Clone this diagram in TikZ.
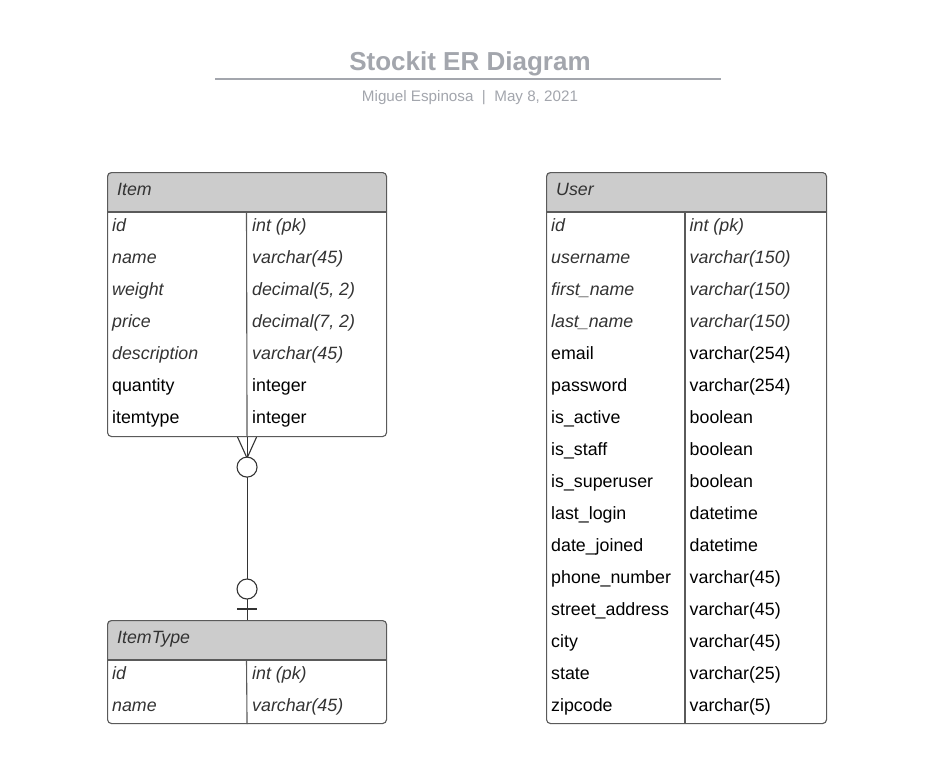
\documentclass[tikz,border=0pt]{standalone}
\usepackage{fontspec}
\usetikzlibrary{calc}
\setmainfont{Liberation Sans}
\definecolor{titlegray}{HTML}{A3A6AD}
\definecolor{hdr}{HTML}{CCCCCC}
\definecolor{bord}{HTML}{5A5A5A}
\definecolor{itx}{HTML}{333333}
\definecolor{conn}{HTML}{333333}
\tikzset{
  tbl/.style={draw=bord, line width=1.1pt, rounded corners=4pt, inner sep=0pt, anchor=north west},
  fld/.style={anchor=base west, inner sep=0pt, font=\fontsize{17.8}{20}\selectfont},
  ifld/.style={anchor=base west, inner sep=0pt, font=\fontsize{17.8}{20}\selectfont\itshape, text=itx},
  sep/.style={draw=bord, line width=1.1pt},
  cline/.style={draw=conn, line width=1.1pt},
  ring/.style={circle, draw=conn, line width=1.1pt, fill=white, minimum size=20pt, inner sep=0pt},
}
\begin{document}
\begin{tikzpicture}[x=1pt,y=-1pt]
\useasboundingbox[fill=white] (0,0) rectangle (934,764);

% title
\node[anchor=base, inner sep=0pt, text=titlegray, font=\fontsize{26}{28}\selectfont\bfseries] (title) at (470,70) {Stockit ER Diagram};
\coordinate (tl) at (215,79);
\coordinate (tr) at (721,79);
\draw[titlegray, line width=1.8pt] (tl) -- (tr);
\node[anchor=base, inner sep=0pt, text=titlegray, font=\fontsize{15.2}{18}\selectfont] (sub) at (470,101) {Miguel Espinosa\ \ |\ \ May 8, 2021};

% ---------- Item table ----------
\fill[hdr] (107,212) [rounded corners=4pt] -- (107,172) -- (386,172) [sharp corners] -- (386,212) -- cycle;
\node[tbl, minimum width=279pt, minimum height=264pt] (item) at (107,172) {};
\draw[sep] (107,212) -- (386,212);
\draw[sep] (item.south) -- (246.5,212);
\node[ifld] (item-h) at (117,195.5) {Item};
\foreach \n/\t/\s [count=\i from 0] in {id/int (pk)/ifld, name/varchar(45)/ifld, weight/{decimal(5, 2)}/ifld, price/{decimal(7, 2)}/ifld, description/varchar(45)/ifld, quantity/integer/fld, itemtype/integer/fld}{
  \node[\s] (item-n\i) at (112,231.5+32*\i) {\n};
  \node[\s] (item-t\i) at (252,231.5+32*\i) {\t};
}

% ---------- ItemType table ----------
\fill[hdr] (107,660) [rounded corners=4pt] -- (107,620) -- (386,620) [sharp corners] -- (386,660) -- cycle;
\node[tbl, minimum width=279pt, minimum height=103pt] (itype) at (107,620) {};
\draw[sep] (107,660) -- (386,660);
\draw[sep] (itype.south) -- (246.5,660);
\node[ifld] (itype-h) at (117,643.5) {ItemType};
\foreach \n/\t [count=\i from 0] in {id/int (pk), name/varchar(45)}{
  \node[ifld] (itype-n\i) at (112,679.5+32*\i) {\n};
  \node[ifld] (itype-t\i) at (252,679.5+32*\i) {\t};
}

% ---------- User table ----------
\fill[hdr] (546,212) [rounded corners=4pt] -- (546,172) -- (826,172) [sharp corners] -- (826,212) -- cycle;
\node[tbl, minimum width=280pt, minimum height=551pt] (user) at (546,172) {};
\draw[sep] (546,212) -- (826,212);
\draw[sep] (685,723) -- (685,212);
\node[ifld] (user-h) at (556,195.5) {User};
\foreach \n/\t/\s [count=\i from 0] in {id/int (pk)/ifld, username/varchar(150)/ifld, first\_name/varchar(150)/ifld, last\_name/varchar(150)/ifld, email/varchar(254)/fld, password/varchar(254)/fld, is\_active/boolean/fld, is\_staff/boolean/fld, is\_superuser/boolean/fld, last\_login/datetime/fld, date\_joined/datetime/fld, phone\_number/varchar(45)/fld, street\_address/varchar(45)/fld, city/varchar(45)/fld, state/varchar(25)/fld, zipcode/varchar(5)/fld}{
  \node[\s] (user-n\i) at (551,231.5+32*\i) {\n};
  \node[\s] (user-t\i) at (689.5,231.5+32*\i) {\t};
}

% ---------- relationship Item (many, optional) -- ItemType (one, optional) ----------
\draw[cline] (item.south) -- (itype.north);
\coordinate (cf) at ($(item.south)+(0,21)$);
\draw[cline] ($(item.south)+(-9.5,0)$) -- (cf) -- ($(item.south)+(9.5,0)$);
\node[ring] (r1) at ($(item.south)+(0,30)$) {};
\node[ring] (r2) at ($(itype.north)+(0,-31)$) {};
\draw[cline] ($(itype.north)+(-10,-11)$) -- ($(itype.north)+(10,-11)$);
\end{tikzpicture}
\end{document}
